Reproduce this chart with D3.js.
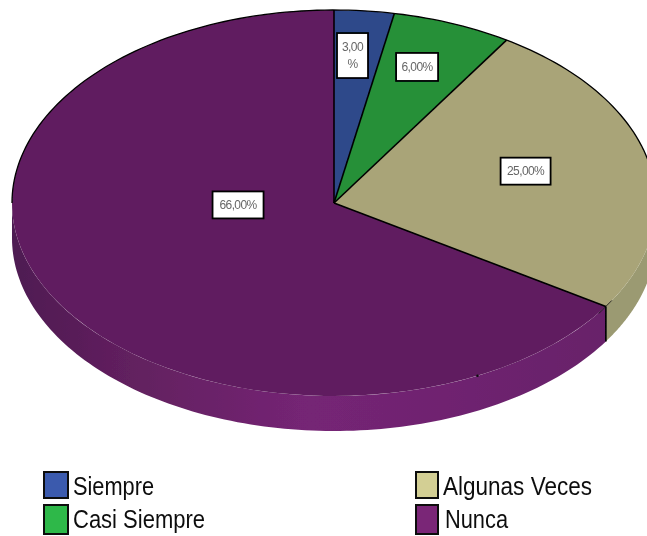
<!DOCTYPE html>
<html><head><meta charset="utf-8">
<script src="https://cdn.jsdelivr.net/npm/d3@7"></script>
<style>html,body{margin:0;padding:0;background:#fff;overflow:hidden}svg{display:block}</style>
</head><body><script>
const categories = ["Siempre", "Casi Siempre", "Algunas Veces", "Nunca"];
const values = [3, 6, 25, 66];
const valueLabels = ["3,00 %", "6,00%", "25,00%", "66,00%"];
const topColors = ["#2f4a8a", "#259038", "#a9a478", "#611f60"];
const legendColors = ["#3a5aad", "#2fb84a", "#d3cf94", "#7a2577"];

const W = 647, H = 536;
const cx = 334, cy = 203, rx = 322, ry = 193, depth = 35;
const svg = d3.select("body").append("svg").attr("width", W).attr("height", H);
const defs = svg.append("defs");
const blur = (id, s) => defs.append("filter").attr("id", id).attr("filterUnits", "userSpaceOnUse")
  .attr("x", 0).attr("y", 0).attr("width", W).attr("height", H)
  .append("feGaussianBlur").attr("stdDeviation", s);
blur("soft", 0.6);
blur("softer", 0.75);
const grad = defs.append("linearGradient").attr("id", "wall").attr("gradientUnits", "userSpaceOnUse")
  .attr("x1", 12).attr("x2", 607).attr("y1", 0).attr("y2", 0);
[[0, "#4e1a52"], [0.2, "#62205f"], [0.5, "#752575"], [1, "#68216a"]].forEach(s =>
  grad.append("stop").attr("offset", s[0]).attr("stop-color", s[1]));

const pie = d3.pie().sort(null).value(d => d);
const arcs = pie(values);
const px = a => cx + rx * Math.sin(a);
const py = a => cy - ry * Math.cos(a);
const arcPts = (a0, a1, off = 0) => d3.range(0, 121).map(i => {
  const a = a0 + (a1 - a0) * i / 120;
  return [px(a), py(a) + off];
});
const line = d3.line();
const g = svg.append("g").attr("filter", "url(#soft)");

// side walls (visible for the front half of the ellipse)
const wallFill = ["#000", "#000", "#9b9a72", "url(#wall)"];
arcs.forEach((d, i) => {
  const a0 = Math.max(d.startAngle, Math.PI / 2), a1 = Math.min(d.endAngle, 3 * Math.PI / 2);
  if (a1 <= a0) return;
  g.append("path").attr("fill", wallFill[i])
    .attr("d", line(arcPts(a0, a1).concat(arcPts(a1, a0, depth))) + "Z");
});

// top face
const arc = d3.arc().innerRadius(0).outerRadius(rx);
const topFace = g.append("g").attr("transform", `translate(${cx},${cy}) scale(1,${ry / rx})`);
topFace.selectAll("path").data(arcs).join("path")
  .attr("d", arc).attr("fill", (d, i) => topColors[i]);

// radial edges
arcs.forEach(d => {
  g.append("line").attr("x1", cx).attr("y1", cy)
    .attr("x2", px(d.startAngle)).attr("y2", py(d.startAngle))
    .attr("stroke", "#000").attr("stroke-width", 1.6);
});
// upper outline
g.append("path").attr("fill", "none").attr("stroke", "#000").attr("stroke-width", 1.3)
  .attr("d", line(arcPts(-Math.PI / 2, 0.435 * Math.PI)));
// edge on the wall between the khaki and purple slices, with its small rim tick
const seam = arcs[2].endAngle;
g.append("line").attr("x1", px(seam)).attr("x2", px(seam))
  .attr("y1", py(seam)).attr("y2", py(seam) + depth)
  .attr("stroke", "#000").attr("stroke-width", 1.6);
g.append("line").attr("x1", px(seam) - 7).attr("x2", px(seam) + 6)
  .attr("y1", py(seam) + 7).attr("y2", py(seam) - 6)
  .attr("stroke", "#000").attr("stroke-width", 0.8);
// small speck on the rim
const speckAngle = 0.853 * Math.PI;
g.append("circle").attr("cx", px(speckAngle)).attr("cy", py(speckAngle)).attr("r", 1.3).attr("fill", "#111");

// value labels
const labelCenters = [[0.0575, -0.764], [0.258, -0.705], [0.595, -0.165], [-0.298, 0.01]];
const labelSizes = [[31, 45], [42, 28], [50, 27], [51, 27]];
valueLabels.forEach((t, i) => {
  const x = cx + rx * labelCenters[i][0], y = cy + ry * labelCenters[i][1];
  const [w, h] = labelSizes[i];
  g.append("rect").attr("x", x - w / 2).attr("y", y - h / 2).attr("width", w).attr("height", h)
    .attr("fill", "#fff").attr("stroke", "#000").attr("stroke-width", 1.8);
  const parts = w < 40 ? t.split(" ") : [t];
  parts.forEach((p, j) => {
    g.append("text").attr("x", x).attr("y", y + 4 + (j - (parts.length - 1) / 2) * 17)
      .attr("filter", "url(#softer)")
      .attr("text-anchor", "middle").attr("font-family", "Liberation Sans").attr("font-size", 12)
      .attr("letter-spacing", -0.6).attr("fill", "#666").text(p);
  });
});

// legend
const legendX = [44, 44, 416, 416], legendY = [472, 505, 472, 505];
const legendH = [26, 29, 26, 29];
const legendW = [24, 24, 22, 22];
const legendTextX = [73, 73, 443, 445];
const legendBase = [495, 528, 495, 528];
const legendTextW = [81, 132, 149, 63];
categories.forEach((c, i) => {
  g.append("rect").attr("x", legendX[i]).attr("y", legendY[i]).attr("width", legendW[i]).attr("height", legendH[i])
    .attr("fill", legendColors[i]).attr("stroke", "#111").attr("stroke-width", 2);
  g.append("text").attr("x", legendTextX[i]).attr("y", legendBase[i])
    .attr("font-family", "Liberation Sans").attr("font-size", 25).attr("fill", "#111")
    .attr("textLength", legendTextW[i]).attr("lengthAdjust", "spacingAndGlyphs").text(c);
});
</script></body></html>
